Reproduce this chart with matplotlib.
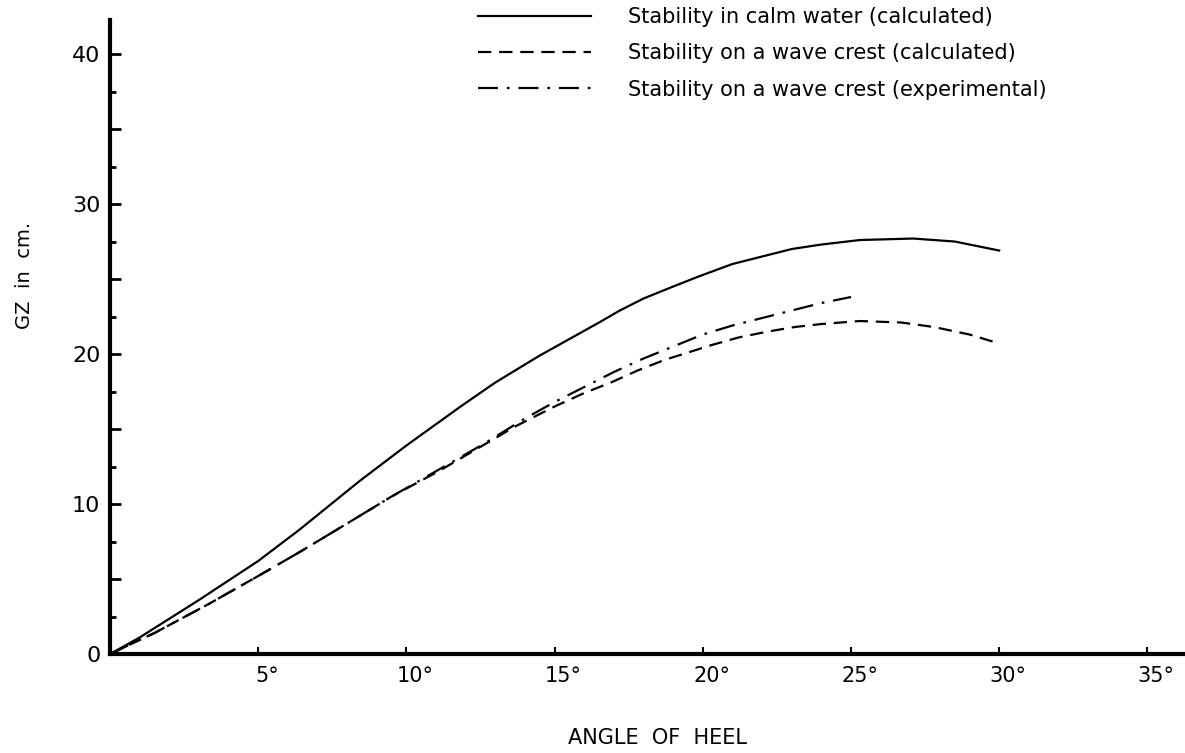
import matplotlib
matplotlib.use("Agg")
import matplotlib.pyplot as plt
import matplotlib.transforms as mtransforms
from matplotlib.ticker import MultipleLocator, FuncFormatter

# GZ curves (angle of heel in degrees, GZ in cm)
calm_angle = [0, 1.0, 3.0, 5.0, 6.4, 8.4, 10.0, 11.9, 13.0, 14.5, 15.5, 16.5, 17.2, 18.0, 19.0, 19.9, 21.0,
              22.2, 23.0, 24.0, 25.3, 27.1, 28.5, 30.0]
calm_gz = [0, 1.1, 3.6, 6.2, 8.3, 11.5, 13.9, 16.6, 18.1, 19.9, 21.0, 22.1, 22.9, 23.7, 24.5, 25.2, 26.0,
           26.6, 27.0, 27.3, 27.6, 27.7, 27.5, 26.9]

crest_angle = [0, 1.5, 3.3, 5.0, 6.4, 8.0, 9.5, 11.1, 12.4, 13.7, 15.0, 16.0, 16.9, 17.8, 18.7, 19.5, 20.3,
               21.2, 22.2, 23.1, 24.0, 25.3, 26.7, 27.8, 29.0, 30.0]
crest_gz = [0, 1.4, 3.3, 5.2, 6.8, 8.7, 10.5, 12.2, 13.7, 15.2, 16.5, 17.4, 18.1, 18.9, 19.6, 20.1, 20.6,
            21.1, 21.5, 21.8, 22.0, 22.2, 22.1, 21.8, 21.3, 20.7]

exp_angle = [0, 1.5, 3.3, 5.0, 6.4, 8.0, 9.5, 11.1, 12.6, 14.0, 15.0, 16.0, 17.0, 18.0, 19.0, 20.0, 21.0,
             22.0, 23.0, 24.0, 25.0]
exp_gz = [0, 1.4, 3.3, 5.2, 6.8, 8.7, 10.5, 12.3, 14.0, 15.7, 16.8, 17.8, 18.8, 19.7, 20.5, 21.3, 21.9,
          22.4, 22.9, 23.4, 23.8]

labels = ["Stability in calm water (calculated)",
          "Stability on a wave crest (calculated)",
          "Stability on a wave crest (experimental)"]

x_ticks = [5, 10, 15, 20, 25, 30, 35]
x_tick_labels = ["5°", "10°", "15°", "20°", "25°", "30°", "35°"]

fig = plt.figure(figsize=(11.85, 7.53), dpi=100)
ax = fig.add_axes([110 / 1185, 1 - 654 / 753, 1075 / 1185, 634 / 753])

lw = 1.6
ax.plot(calm_angle, calm_gz, color="black", lw=lw, label=labels[0])
ax.plot(crest_angle, crest_gz, color="black", lw=lw, linestyle=(0, (6, 3.5)), label=labels[1])
ax.plot(exp_angle, exp_gz, color="black", lw=lw, linestyle=(0, (9, 4, 1.2, 4)), label=labels[2])

ax.set_xlim(0, 36.27)
ax.set_ylim(0, 42.27)

for s in ["top", "right"]:
    ax.spines[s].set_visible(False)
ax.spines["left"].set_linewidth(3)
ax.spines["bottom"].set_linewidth(3)

ax.set_xticks(x_ticks, x_tick_labels)
ax.tick_params(axis="x", direction="in", length=5, width=1.5, pad=9, labelsize=15)
offset = mtransforms.ScaledTranslation(9 / 100, 0, fig.dpi_scale_trans)
for lbl in ax.get_xticklabels():
    lbl.set_transform(lbl.get_transform() + offset)

ax.yaxis.set_major_locator(MultipleLocator(5))
ax.yaxis.set_minor_locator(MultipleLocator(2.5))
ax.yaxis.set_major_formatter(FuncFormatter(lambda v, p: "%d" % v if v % 10 == 0 else ""))
ax.tick_params(axis="y", which="major", direction="in", length=8, width=2, pad=7, labelsize=16)
ax.tick_params(axis="y", which="minor", direction="in", length=4, width=2)

fig.text(25 / 1185, 1 - 275 / 753, "GZ  in  cm.", rotation=90, ha="center", va="center", fontsize=14)
fig.text(658 / 1185, 1 - 738 / 753, "ANGLE  OF  HEEL", ha="center", va="center", fontsize=15)

ax.legend(loc="upper left", bbox_to_anchor=(478 / 1185, 1 - 7 / 753), bbox_transform=fig.transFigure,
          frameon=False, fontsize=15, handlelength=5.4, handletextpad=1.8, labelspacing=0.78,
          borderpad=0, borderaxespad=0)

fig.savefig("out.png", dpi=100)
